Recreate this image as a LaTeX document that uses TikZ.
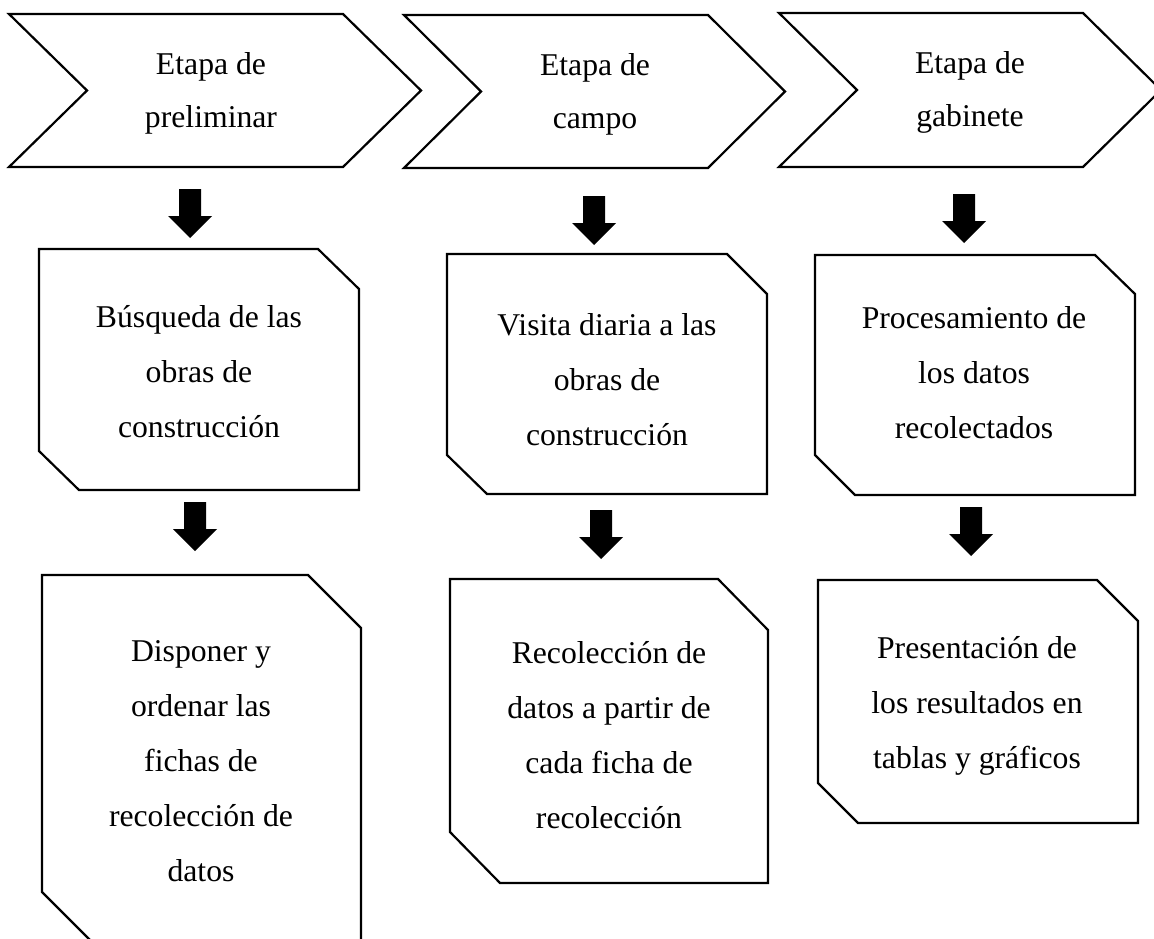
\documentclass[tikz,border=0pt]{standalone}
\usepackage{fontspec}
\setmainfont{Liberation Serif}
\tikzset{
  outline/.style={draw=black, line width=2.2pt, line join=miter, fill=white},
  chevtxt/.style={align=center, inner sep=0pt, anchor=base, font=\fontsize{31.7}{53}\selectfont},
  boxtxt/.style={align=center, inner sep=0pt, anchor=base, font=\fontsize{31.7}{55}\selectfont},
  blockarrow/.style={fill=black},
}
\newcommand{\blkarrow}[1]{\fill[blockarrow, shift={(#1)}] (-11,0) -- (11,0) -- (11,27) -- (22,27) -- (0,49) -- (-22,27) -- (-11,27) -- cycle;}
\begin{document}
\begin{tikzpicture}[x=1pt,y=-1pt]
\useasboundingbox (0,0) rectangle (1154,939);
\clip (0,0) rectangle (1154,939);
% chevrons
\draw[outline] (9,14) -- (343,14) -- (421,90.5) -- (343,167) -- (9,167) -- (87,90.5) -- cycle;
\draw[outline] (404,15) -- (708,15) -- (785,91.5) -- (708,168) -- (404,168) -- (481,91.5) -- cycle;
\draw[outline] (779,13) -- (1083,13) -- (1161,90) -- (1083,167) -- (779,167) -- (857,90) -- cycle;
\node[chevtxt] (c1) at (211,128) {Etapa de\\preliminar};
\node[chevtxt] (c2) at (595,129) {Etapa de\\campo};
\node[chevtxt] (c3) at (970,127) {Etapa de\\gabinete};
% boxes row 1
\draw[outline] (39,249) -- (318,249) -- (359,289) -- (359,490) -- (79,490) -- (39,451) -- cycle;
\draw[outline] (447,254) -- (727,254) -- (767,294) -- (767,494) -- (487,494) -- (447,455) -- cycle;
\draw[outline] (815,255) -- (1095,255) -- (1135,294) -- (1135,495) -- (855,495) -- (815,455) -- cycle;
\node[boxtxt] (b1) at (199,437) {Búsqueda de las\\obras de\\construcción};
\node[boxtxt] (b2) at (607,445) {Visita diaria a las\\obras de\\construcción};
\node[boxtxt] (b3) at (974,438) {Procesamiento de\\los datos\\recolectados};
% boxes row 2
\draw[outline] (42,575) -- (308,575) -- (361,628) -- (361,945) -- (95,945) -- (42,892) -- cycle;
\draw[outline] (450,579) -- (718,579) -- (768,630) -- (768,883) -- (500,883) -- (450,832) -- cycle;
\draw[outline] (818,580) -- (1097,580) -- (1138,621) -- (1138,823) -- (858,823) -- (818,783) -- cycle;
\node[boxtxt] (b4) at (201,881) {Disponer y\\ordenar las\\fichas de\\recolección de\\datos};
\node[boxtxt] (b5) at (609,828) {Recolección de\\datos a partir de\\cada ficha de\\recolección};
\node[boxtxt] (b6) at (977,768) {Presentación de\\los resultados en\\tablas y gráficos};
% block arrows
\coordinate (a1) at (190,189);
\coordinate (a2) at (594,196);
\coordinate (a3) at (964,194);
\coordinate (a4) at (195,502);
\coordinate (a5) at (601,510);
\coordinate (a6) at (971,507);
\blkarrow{a1}
\blkarrow{a2}
\blkarrow{a3}
\blkarrow{a4}
\blkarrow{a5}
\blkarrow{a6}
\end{tikzpicture}
\end{document}
